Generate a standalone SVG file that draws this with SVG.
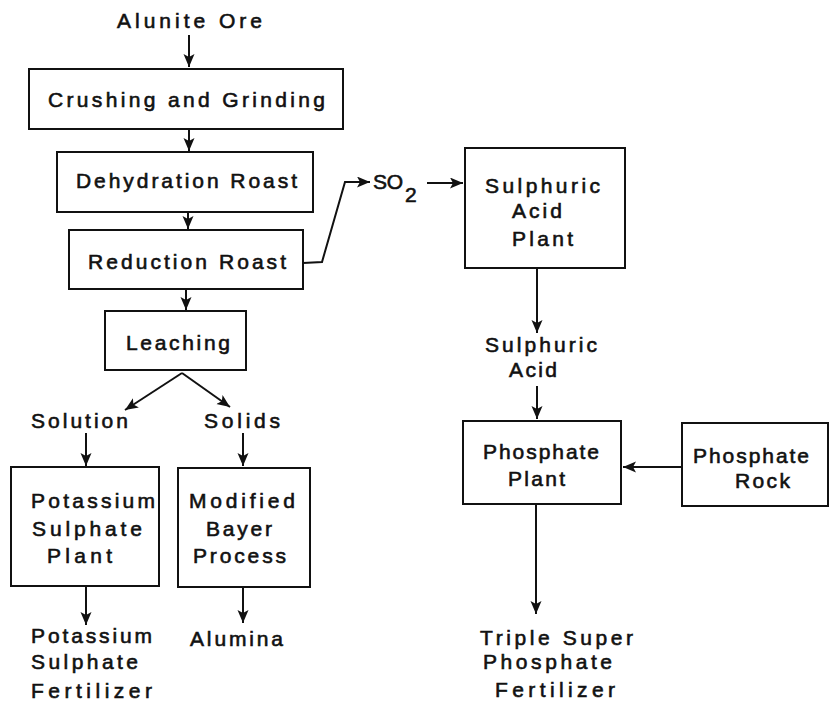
<svg xmlns="http://www.w3.org/2000/svg" width="831" height="703" viewBox="0 0 831 703">
<style>
  .box { fill: #fff; stroke: #111; stroke-width: 2; }
  .ln { fill: none; stroke: #111; stroke-width: 2; }
  text { font-family: "Liberation Sans", Arial, sans-serif; font-size: 21px; fill: #111; stroke: #111; stroke-width: 0.6; }
</style>
<defs>
  <marker id="ah" markerUnits="userSpaceOnUse" markerWidth="16" markerHeight="12" refX="13" refY="5.5" orient="auto">
    <path d="M0,0 L13,5.5 L0,11 L3,5.5 Z" fill="#111"/>
  </marker>
</defs>
<rect width="831" height="703" fill="#fff"/>

<g id="connectors">
  <line class="ln" x1="189" y1="35" x2="189" y2="67" marker-end="url(#ah)"/>
  <line class="ln" x1="189" y1="129" x2="189" y2="151" marker-end="url(#ah)"/>
  <line class="ln" x1="188" y1="212" x2="188" y2="229" marker-end="url(#ah)"/>
  <line class="ln" x1="186" y1="289" x2="186" y2="310" marker-end="url(#ah)"/>
  <polyline class="ln" points="303,263 322,262 345,182 370,182" marker-end="url(#ah)"/>
  <line class="ln" x1="427" y1="183" x2="463" y2="183" marker-end="url(#ah)"/>
  <line class="ln" x1="182" y1="373" x2="125" y2="410" marker-end="url(#ah)"/>
  <line class="ln" x1="182" y1="373" x2="230" y2="407" marker-end="url(#ah)"/>
  <line class="ln" x1="86" y1="433" x2="86" y2="466" marker-end="url(#ah)"/>
  <line class="ln" x1="243" y1="433" x2="243" y2="466" marker-end="url(#ah)"/>
  <line class="ln" x1="86" y1="586" x2="86" y2="625" marker-end="url(#ah)"/>
  <line class="ln" x1="243" y1="587" x2="243" y2="623" marker-end="url(#ah)"/>
  <line class="ln" x1="537" y1="268" x2="537" y2="333" marker-end="url(#ah)"/>
  <line class="ln" x1="537" y1="386" x2="537" y2="419" marker-end="url(#ah)"/>
  <line class="ln" x1="682" y1="467" x2="623" y2="467" marker-end="url(#ah)"/>
  <line class="ln" x1="536" y1="504" x2="536" y2="614" marker-end="url(#ah)"/>
</g>

<g id="alunite-ore">
  <text x="117" y="28" textLength="145" lengthAdjust="spacing">Alunite Ore</text>
</g>
<g id="crushing">
  <rect class="box" x="29" y="69" width="314" height="60"/>
  <text x="48" y="107" textLength="277" lengthAdjust="spacing">Crushing and Grinding</text>
</g>
<g id="dehydration">
  <rect class="box" x="57" y="152" width="256" height="60"/>
  <text x="76" y="188" textLength="221" lengthAdjust="spacing">Dehydration Roast</text>
</g>
<g id="reduction">
  <rect class="box" x="69" y="230" width="234" height="59"/>
  <text x="88" y="269" textLength="198" lengthAdjust="spacing">Reduction Roast</text>
</g>
<g id="so2">
  <text x="373" y="189" textLength="30" lengthAdjust="spacing">SO</text>
  <text x="405" y="202" font-size="20">2</text>
</g>
<g id="sulphuric-acid-plant">
  <rect class="box" x="465" y="148" width="160" height="120"/>
  <text x="485" y="193" textLength="115" lengthAdjust="spacing">Sulphuric</text>
  <text x="512" y="218" textLength="50" lengthAdjust="spacing">Acid</text>
  <text x="512" y="246" textLength="61" lengthAdjust="spacing">Plant</text>
</g>
<g id="sulphuric-acid">
  <text x="485" y="352" textLength="112" lengthAdjust="spacing">Sulphuric</text>
  <text x="509" y="377" textLength="48" lengthAdjust="spacing">Acid</text>
</g>
<g id="leaching">
  <rect class="box" x="105" y="311" width="141" height="59"/>
  <text x="126" y="350" textLength="104" lengthAdjust="spacing">Leaching</text>
</g>
<g id="solution">
  <text x="31" y="428" textLength="97" lengthAdjust="spacing">Solution</text>
</g>
<g id="solids">
  <text x="204" y="428" textLength="76" lengthAdjust="spacing">Solids</text>
</g>
<g id="potassium-plant">
  <rect class="box" x="11" y="467" width="148" height="119"/>
  <text x="31" y="508" textLength="124" lengthAdjust="spacing">Potassium</text>
  <text x="32" y="536" textLength="110" lengthAdjust="spacing">Sulphate</text>
  <text x="47" y="563" textLength="65" lengthAdjust="spacing">Plant</text>
</g>
<g id="bayer">
  <rect class="box" x="178" y="468" width="132" height="119"/>
  <text x="189" y="508" textLength="106" lengthAdjust="spacing">Modified</text>
  <text x="206" y="536" textLength="66" lengthAdjust="spacing">Bayer</text>
  <text x="193" y="563" textLength="93" lengthAdjust="spacing">Process</text>
</g>
<g id="potassium-fertilizer">
  <text x="31" y="643" textLength="121" lengthAdjust="spacing">Potassium</text>
  <text x="31" y="669" textLength="107" lengthAdjust="spacing">Sulphate</text>
  <text x="31" y="698" textLength="121" lengthAdjust="spacing">Fertilizer</text>
</g>
<g id="alumina">
  <text x="190" y="646" textLength="93" lengthAdjust="spacing">Alumina</text>
</g>
<g id="phosphate-plant">
  <rect class="box" x="463" y="421" width="158" height="83"/>
  <text x="483" y="459" textLength="116" lengthAdjust="spacing">Phosphate</text>
  <text x="508" y="486" textLength="57" lengthAdjust="spacing">Plant</text>
</g>
<g id="phosphate-rock">
  <rect class="box" x="682" y="423" width="146" height="83"/>
  <text x="693" y="463" textLength="116" lengthAdjust="spacing">Phosphate</text>
  <text x="735" y="488" textLength="55" lengthAdjust="spacing">Rock</text>
</g>
<g id="tsp-fertilizer">
  <text x="480" y="645" textLength="153" lengthAdjust="spacing">Triple Super</text>
  <text x="483" y="669" textLength="129" lengthAdjust="spacing">Phosphate</text>
  <text x="495" y="697" textLength="120" lengthAdjust="spacing">Fertilizer</text>
</g>
</svg>
